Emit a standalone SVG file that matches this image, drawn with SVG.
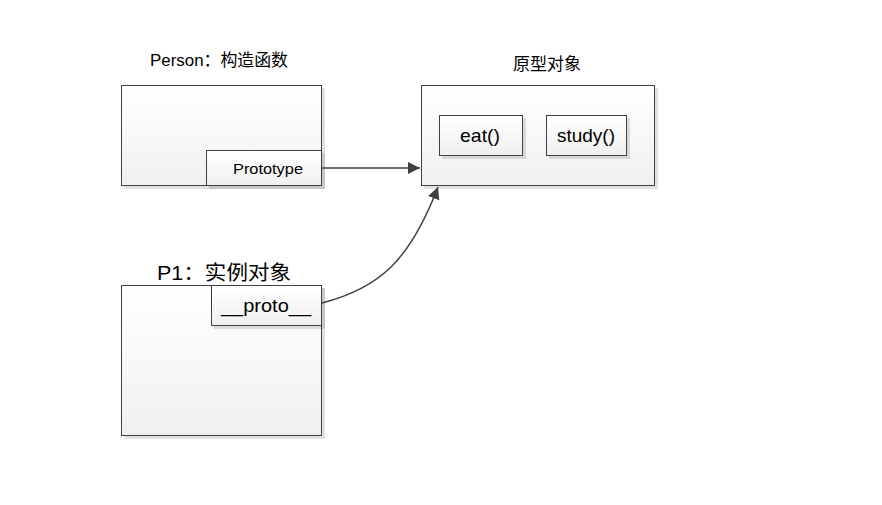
<svg xmlns="http://www.w3.org/2000/svg" width="882" height="505" viewBox="0 0 882 505">
<defs>
<linearGradient id="g" x1="0" y1="0" x2="0" y2="1">
<stop offset="0" stop-color="#ffffff"/>
<stop offset="1" stop-color="#f0f0f0"/>
</linearGradient>
<marker id="ah" viewBox="0 0 10 10" refX="10" refY="5" markerWidth="12" markerHeight="12" markerUnits="userSpaceOnUse" orient="auto">
<path d="M0,0 L10,5 L0,10 Z" fill="#404040"/>
</marker>
<filter id="sh" x="-10%" y="-10%" width="130%" height="130%">
<feOffset dx="3" dy="3" in="SourceAlpha" result="o"/>
<feComponentTransfer in="o" result="c"><feFuncA type="linear" slope="0.12"/></feComponentTransfer>
<feMerge><feMergeNode in="c"/><feMergeNode in="SourceGraphic"/></feMerge>
</filter>
</defs>
<style>
.box{fill:url(#g);stroke:#404040;stroke-width:1;filter:url(#sh)}
.t{font-family:"Liberation Sans","Noto Sans CJK SC",sans-serif;fill:#000}
.edge{fill:none;stroke:#404040;stroke-width:1.5}
</style>
<rect width="882" height="505" fill="#fff"/>
<g id="person">
<text class="t" x="150" y="66" font-size="17" textLength="138" lengthAdjust="spacingAndGlyphs">Person：构造函数</text>
<rect class="box" x="121.5" y="85.5" width="200" height="100"/>
</g>
<g id="prototype">
<rect class="box" x="206.5" y="150.5" width="115" height="35"/>
<text class="t" x="233" y="174" font-size="15" textLength="70" lengthAdjust="spacingAndGlyphs">Prototype</text>
</g>
<g id="protoobj">
<text class="t" x="547" y="70" font-size="17" text-anchor="middle">原型对象</text>
<rect class="box" x="421.5" y="85.5" width="233" height="100"/>
</g>
<g id="eat">
<rect class="box" x="439.5" y="115.5" width="83" height="40"/>
<text class="t" x="480" y="142" font-size="19" text-anchor="middle" textLength="40" lengthAdjust="spacingAndGlyphs">eat()</text>
</g>
<g id="study">
<rect class="box" x="546.5" y="115.5" width="80" height="40"/>
<text class="t" x="586" y="142" font-size="19" text-anchor="middle" textLength="58" lengthAdjust="spacingAndGlyphs">study()</text>
</g>
<g id="p1">
<text class="t" x="157" y="280" font-size="20" textLength="134" lengthAdjust="spacingAndGlyphs">P1：实例对象</text>
<rect class="box" x="121.5" y="285.5" width="200" height="150"/>
</g>
<g id="proto">
<rect class="box" x="211.5" y="285.5" width="110" height="40"/>
<text class="t" x="266" y="312" font-size="19" text-anchor="middle" textLength="90" lengthAdjust="spacingAndGlyphs">__proto__</text>
</g>
<g id="connectors">
<path class="edge" d="M321.5,168 L420,168" marker-end="url(#ah)"/>
<path class="edge" d="M322,303 C380,288 410,260 438,187" marker-end="url(#ah)"/>
</g>
</svg>
